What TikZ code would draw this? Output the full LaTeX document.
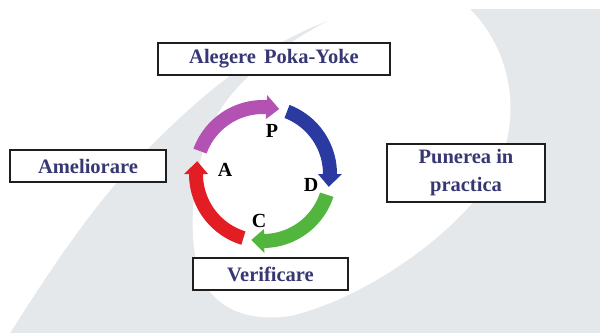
\documentclass[tikz,border=0pt]{standalone}
\usepackage{fontspec}
\setmainfont{Liberation Serif}
\definecolor{bggray}{RGB}{228,232,234}
\definecolor{boxline}{RGB}{30,30,30}
\definecolor{labelnavy}{RGB}{55,55,115}
\definecolor{planpurple}{RGB}{180,82,180}
\definecolor{doblue}{RGB}{42,58,160}
\definecolor{checkgreen}{RGB}{82,182,62}
\definecolor{actred}{RGB}{226,30,36}
% one thick ring segment: colour, start angle, tip angle (clockwise)
\newcommand\ringarrow[3]{%
  \fill[#1] plot[domain=#2:{#3+11}, samples=40] (\x:74)
    -- ({#3+11}:79) -- (#3:67) -- ({#3+11}:55)
    -- plot[domain={#3+11}:#2, samples=40] (\x:60) -- cycle;}
\begin{document}
\begin{tikzpicture}[x=1pt,y=-1pt,
  stage/.style={draw=boxline, line width=1.8pt, fill=white, inner sep=0pt,
    font=\bfseries\fontsize{20.5}{28}\selectfont, text=labelnavy, align=center},
  letter/.style={font=\bfseries\fontsize{20}{20}\selectfont, text=black, inner sep=0pt},
]
\useasboundingbox (0,0) rectangle (600,333);
% background with the white swoosh
\fill[white] (0,0) rectangle (600,333);
\fill[bggray] (0,9) rectangle (600,333);
\fill[white] (0,0) -- (0,333) -- (10,333)
  .. controls (50,270) and (90,210) .. (135,162)
  .. controls (190,105) and (250,50) .. (330,20) -- (330,0) -- cycle;
\fill[white] (330,20) .. controls (280,45) and (230,85) .. (212,125)
  .. controls (195,165) and (185,230) .. (200,275)
  .. controls (215,310) and (250,322) .. (290,316)
  .. controls (360,300) and (450,240) .. (490,180)
  .. controls (520,135) and (520,60) .. (470,9) -- (330,9) -- cycle;

% PDCA ring
\begin{scope}[shift={(263,174)}, yscale=-1]
  \ringarrow{planpurple}{160}{76}
  \ringarrow{doblue}{69}{-11}
  \ringarrow{checkgreen}{-18}{-100}
  \ringarrow{actred}{-107}{-191}
\end{scope}
\node[letter] (p) at (272,131) {P};
\node[letter] (d) at (311,185) {D};
\node[letter] (c) at (259,221) {C};
\node[letter] (a) at (225,170) {A};

% stage boxes
\node[stage, minimum width=232pt, minimum height=32pt] (choose) at (274,59) {Alegere\hspace{0.4em}Poka-Yoke};
\node[stage, minimum width=156pt, minimum height=32pt] (improve) at (88,166) {Ameliorare};
\node[stage, minimum width=158pt, minimum height=58pt] (apply) at (466,173) {Punerea in\\practica};
\node[stage, minimum width=155pt, minimum height=32pt] (verify) at (270.5,274) {Verificare};
\end{tikzpicture}
\end{document}
